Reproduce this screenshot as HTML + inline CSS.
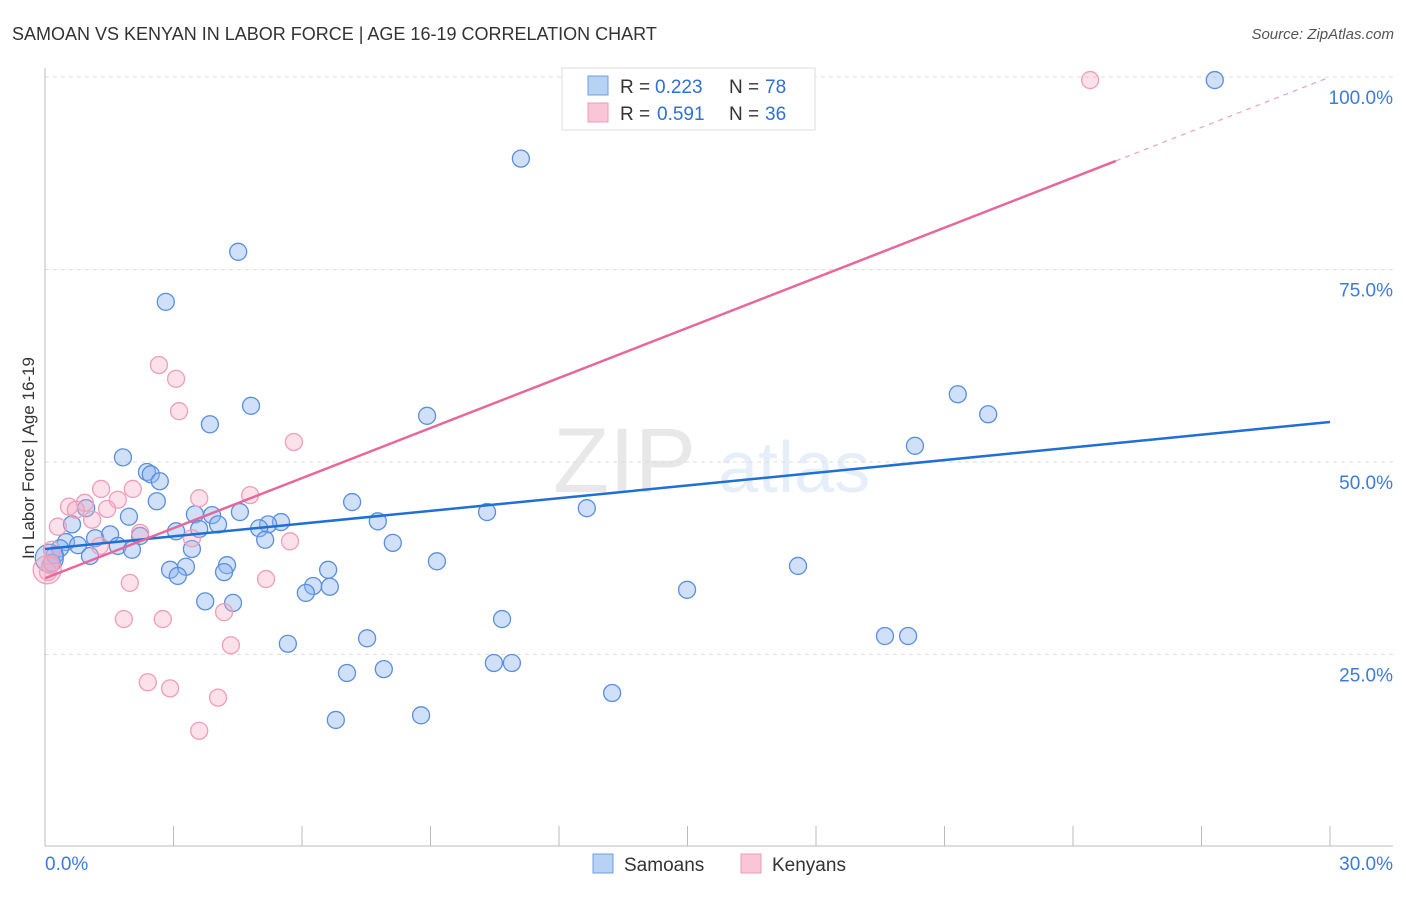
<!DOCTYPE html>
<html><head><meta charset="utf-8"><style>
body{margin:0;background:#fff;font-family:"Liberation Sans",sans-serif;}
svg text{font-family:"Liberation Sans",sans-serif;}
</style></head><body>
<svg id="chart" width="1406" height="892" xmlns="http://www.w3.org/2000/svg">
<text x="12" y="40" font-size="18" fill="#333">SAMOAN VS KENYAN IN LABOR FORCE | AGE 16-19 CORRELATION CHART</text>
<text x="1394" y="39" font-size="15" fill="#555" font-style="italic" text-anchor="end">Source: ZipAtlas.com</text>
<text x="34" y="458" font-size="17" fill="#333" text-anchor="middle" transform="rotate(-90 34 458)">In Labor Force | Age 16-19</text>
<g opacity="0.13"><text x="553" y="492" font-size="92" fill="#555" font-family="Liberation Serif">ZIP</text><text x="718" y="492" font-size="72" fill="#4a8ad8">atlas</text></g>
<g id="grid"></g><g id="axes"></g><g id="pts"></g><g id="lines"></g>
<g>
<rect x="562" y="68" width="253" height="62" fill="#fff" stroke="#ddd"/>
<rect x="588" y="76" width="20" height="19" fill="#b8d2f5" stroke="#6d9de0"/>
<rect x="588" y="103" width="20" height="19" fill="#f8c6d6" stroke="#ee9ab6"/>
<text x="620" y="93" font-size="19" fill="#333">R =</text>
<text x="655" y="93" font-size="19" fill="#2f6fd6">0.223</text>
<text x="729" y="93" font-size="19" fill="#333">N =</text>
<text x="765" y="93" font-size="19" fill="#2f6fd6">78</text>
<text x="620" y="120" font-size="19" fill="#333">R =</text>
<text x="657" y="120" font-size="19" fill="#2f6fd6">0.591</text>
<text x="729" y="120" font-size="19" fill="#333">N =</text>
<text x="765" y="120" font-size="19" fill="#2f6fd6">36</text>
</g>
<g>
<rect x="593" y="854" width="20" height="19" fill="#b8d2f5" stroke="#6d9de0"/>
<text x="624" y="871" font-size="19" fill="#333">Samoans</text>
<rect x="741" y="854" width="20" height="19" fill="#f8c6d6" stroke="#ee9ab6"/>
<text x="772" y="871" font-size="19" fill="#333">Kenyans</text>
</g>
</svg>
<script>
const blueX=[27.31,11.11,4.51,2.82,4.81,3.85,8.92,21.31,22.02,20.31,1.82,2.38,2.47,2.68,2.61,7.17,12.65,10.32,0.96,3.50,4.55,1.96,3.90,5.51,5.21,5.00,4.04,7.77,0.63,3.06,3.60,1.52,1.17,2.22,5.14,8.12,0.49,0.77,1.70,2.03,3.43,0.35,1.05,0.23,0.16,9.15,4.25,2.92,3.29,4.18,3.10,6.61,6.26,6.65,6.09,17.58,14.99,3.74,4.39,10.67,7.52,5.67,19.61,20.15,10.48,10.90,7.91,7.05,13.24,8.78,6.79,0.1];
const blueY=[99.6,89.4,77.3,70.8,57.3,54.9,56.0,58.8,56.2,52.1,50.6,48.7,48.4,47.5,44.9,44.8,44.0,43.5,44.0,43.2,43.5,42.9,43.1,42.2,41.9,41.4,41.9,42.3,41.9,41.0,41.3,40.6,40.1,40.4,39.9,39.5,39.6,39.2,39.1,38.6,38.7,38.8,37.8,37.9,36.9,37.1,36.6,36.0,36.4,35.7,35.2,36.0,33.9,33.8,33.0,36.5,33.4,31.9,31.7,29.6,27.1,26.4,27.4,27.4,23.9,23.9,23.1,22.6,20.0,17.1,16.5,37.5];
const pinkX=[24.40,2.66,3.06,3.13,5.81,4.79,3.60,1.31,2.05,0.93,0.56,1.70,0.72,1.45,1.10,0.30,2.22,3.43,5.72,1.28,0.16,0.12,0.07,5.16,1.98,1.84,2.75,4.18,4.34,2.40,2.92,4.04,3.60,0.05];
const pinkY=[99.6,62.6,60.8,56.6,52.6,45.7,45.3,46.5,46.5,44.7,44.2,45.1,43.8,43.9,42.5,41.6,40.8,40.1,39.7,39.1,38.6,36.6,35.7,34.8,34.3,29.6,29.6,30.5,26.2,21.4,20.6,19.4,15.1,36.0];
const yTicks=[25,50,75,100];
const xTicks=[0,3,6,9,12,15,18,21,24,27,30];
const blueTrend=[38.7,55.2];
const pinkTrend=[34.9,89.1,100];
const NS="http://www.w3.org/2000/svg";
const sx=v=>45+v/30*1285, sy=v=>847-v*7.7;
function mk(tag,attrs,parent){const e=document.createElementNS(NS,tag);for(const k in attrs)e.setAttribute(k,attrs[k]);document.getElementById(parent).appendChild(e);return e;}
yTicks.forEach(t=>{
 const l=mk('line',{x1:45,x2:1393,y1:sy(t),y2:sy(t),stroke:'#ddd','stroke-dasharray':'4,4'},'grid');
 
 
 const tx=mk('text',{x:1393,y:sy(t)+27,'font-size':19,fill:'#3d7bd9','text-anchor':'end'},'grid');
 tx.textContent=t.toFixed(1)+'%';
 
 
});
mk('line',{x1:45,x2:45,y1:68,y2:846,stroke:'#bbb'},'axes');
mk('line',{x1:45,x2:1393,y1:846,y2:846,stroke:'#bbb'},'axes');
xTicks.forEach(t=>{
 const l=mk('line',{x1:sx(t),x2:sx(t),y1:826,y2:846,stroke:'#bbb'},'axes');
 
 
});
[[0,'start',45],[30,'end',1393]].forEach(([t,a,x])=>{
 const tx=mk('text',{x:x,y:870,'font-size':19,fill:'#3d7bd9','text-anchor':a},'axes');
 tx.textContent=t.toFixed(1)+'%';
 
 
});
blueX.forEach((x,i)=>{
 const c=mk('circle',{cx:sx(x),cy:sy(blueY[i]),r:i===blueX.length-1?14:8.5,fill:'rgba(140,182,238,0.42)',stroke:'#5a8fdf','stroke-width':1.3},'pts');
 
 
});
pinkX.forEach((x,i)=>{
 const c=mk('circle',{cx:sx(x),cy:sy(pinkY[i]),r:i===pinkX.length-1?14:8.5,fill:'rgba(245,170,195,0.35)',stroke:'#ef9db8','stroke-width':1.3},'pts');
 
 
});
const bl=mk('line',{x1:sx(0),y1:sy(blueTrend[0]),x2:sx(30),y2:sy(blueTrend[1]),stroke:'#1f6fd6','stroke-width':2.5},'lines');


const pl=mk('line',{x1:sx(0),y1:sy(pinkTrend[0]),x2:sx(25),y2:sy(pinkTrend[1]),stroke:'#e8679a','stroke-width':2.5},'lines');


const pd=mk('line',{x1:sx(25),y1:sy(pinkTrend[1]),x2:sx(30),y2:sy(pinkTrend[2]),stroke:'#efa0bd','stroke-width':1.2,'stroke-dasharray':'5,5'},'lines');


</script>
</body></html>
